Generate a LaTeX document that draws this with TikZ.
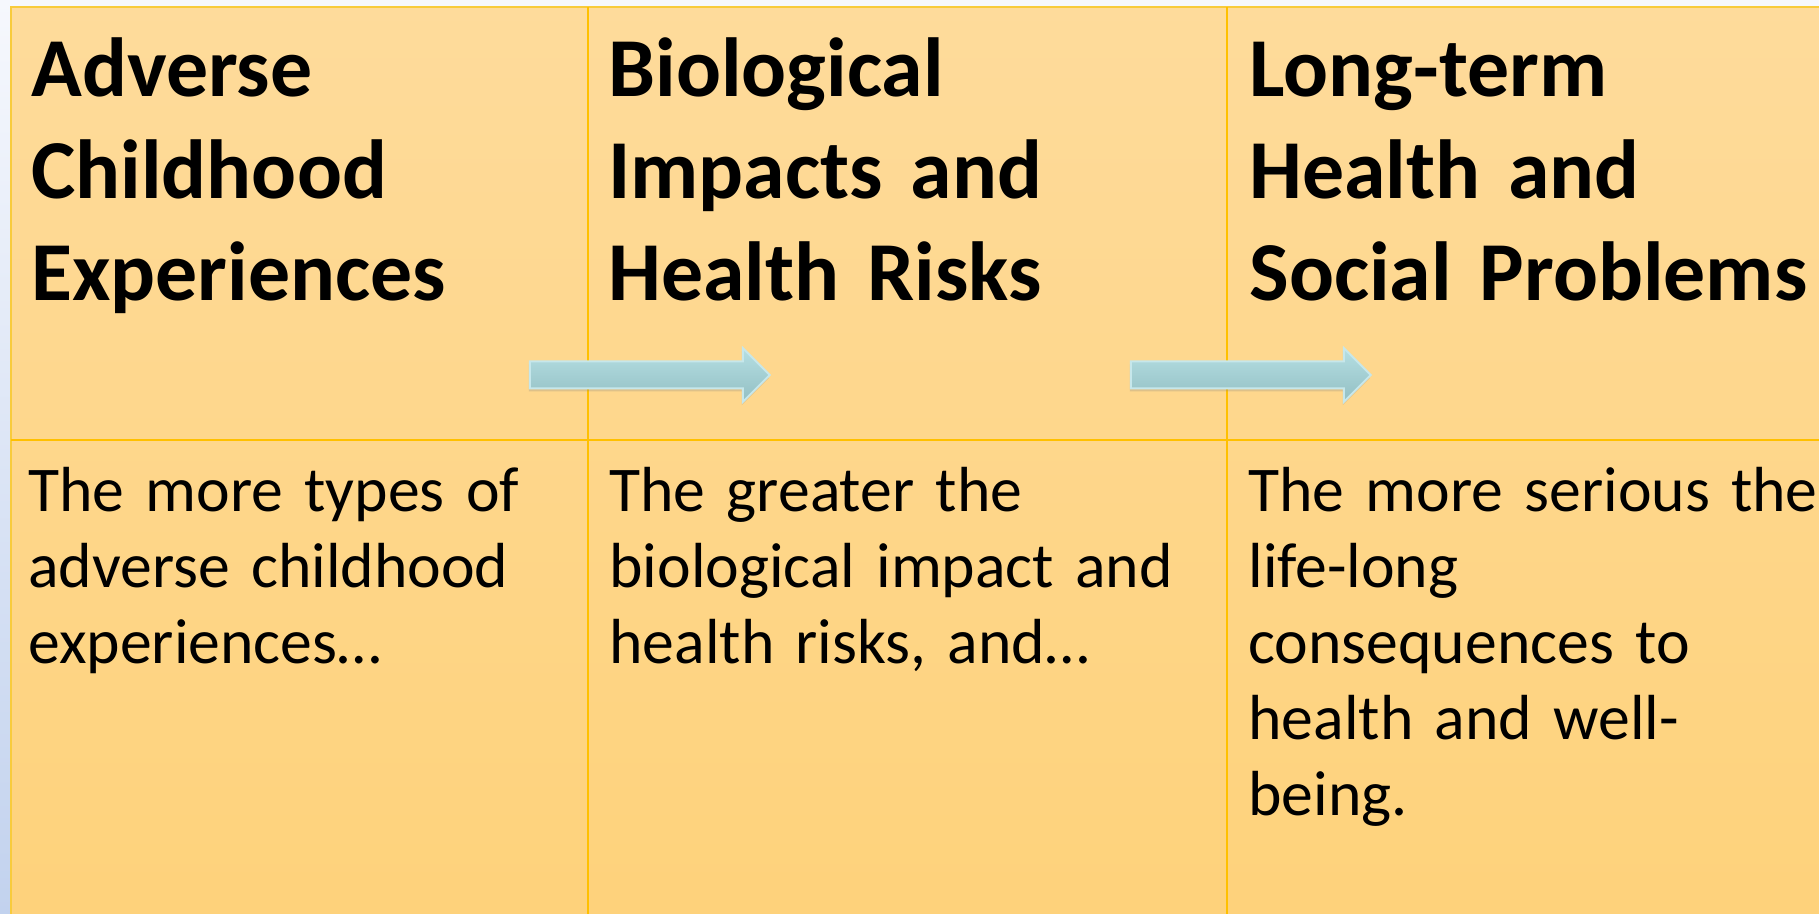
\documentclass[tikz,border=0pt]{standalone}
\usepackage{fontspec}
\setmainfont{Carlito}[WordSpace=0.7]
\newfontfamily\bodyface{Carlito}[WordSpace=0.5]
\usepackage{xcolor}
\usepackage{tikz}
\usetikzlibrary{shapes.arrows,shadows}

\definecolor{pageTop}{HTML}{F6F8FD}
\definecolor{pageBot}{HTML}{C2D2EE}
\definecolor{panelTop}{HTML}{FEDB9B}
\definecolor{panelBot}{HTML}{FED27B}
\definecolor{rimGold}{HTML}{F8CB3C}
\definecolor{gridGold}{HTML}{FFC000}
\definecolor{arrowTop}{HTML}{B5DFE3}
\definecolor{arrowBot}{HTML}{93BFC3}
\definecolor{arrowRim}{HTML}{C6E7EB}

\begin{document}
\begin{tikzpicture}[x=0.5pt, y=-0.5pt,
  head/.style={anchor=base west, inner sep=0pt, text width=300pt, align=left,
    font=\fontsize{41.9}{51}\selectfont\bfseries},
  body/.style={anchor=base west, inner sep=0pt, text width=300pt, align=left,
    font=\bodyface\fontsize{31.85}{38}\selectfont},
  flow/.style={single arrow, draw=arrowRim, line width=1pt,
    top color=arrowTop, bottom color=arrowBot,
    minimum height=120pt, inner xsep=0pt, inner ysep=6.25pt,
    single arrow head extend=6.75pt, text height=0pt, text depth=0pt,
    drop shadow={opacity=0.25, shadow xshift=-0.5pt, shadow yshift=-1.5pt}}]
\useasboundingbox (0,0) rectangle (1819,914);

% Page and table
\shade[top color=pageTop, bottom color=pageBot] (0,0) rectangle (1819,914);
\shade[top color=panelTop, bottom color=panelBot] (11,7) rectangle (1819,914);
\draw[rimGold, line width=1pt] (11,914) -- (11,7) -- (1819,7);
\draw[gridGold, line width=0.6pt] (588,7) -- (588,914);
\draw[gridGold, line width=0.6pt] (1227,7) -- (1227,914);
\draw[gridGold, line width=0.6pt] (11,440) -- (1819,440);

% Headings
\node[head] (ace) at (31,97) {Adverse\\Childhood\\Experiences};
\node[head] (bio) at (608,97) {Biological\\Impacts and\\Health Risks};
\node[head] (ltp) at (1249,97) {Long-term\\Health and\\Social Problems};

% Descriptions
\node[body] (aceTxt) at (28,511) {The more types of\\adverse childhood\\experiences…};
\node[body] (bioTxt) at (609,511) {The greater the\\biological impact and\\health risks, and…};
\node[body] (ltpTxt) at (1248,511) {The more serious the\\life-long\\consequences to\\health and well-\\being.};

% Arrows
\node[flow] (stepA) at (643,375) {};
\node[flow] (stepB) at (1244,375) {};
\end{tikzpicture}
\end{document}
